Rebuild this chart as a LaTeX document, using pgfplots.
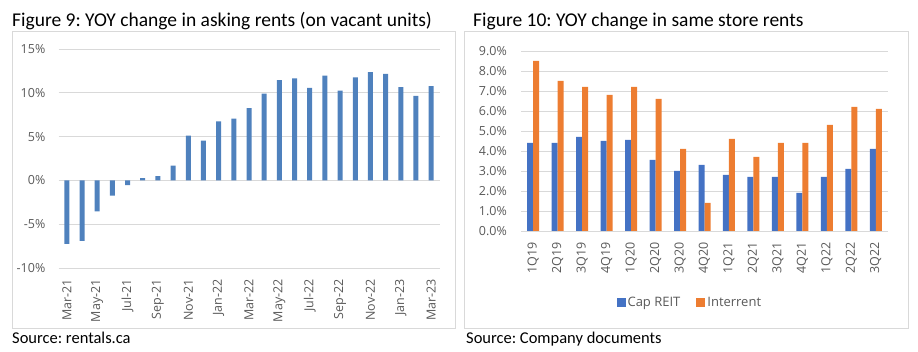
\documentclass[border=0pt]{standalone}
\usepackage{pgfplots}
\pgfplotsset{compat=1.18}
\usepackage{fontspec}
\setmainfont{Carlito}
\newfontfamily\tickfont{Open Sans}
\definecolor{gridc}{HTML}{D9D9D9}
\definecolor{tickc}{HTML}{595959}
\definecolor{barA}{HTML}{4F81BD}
\definecolor{capc}{HTML}{4472C4}
\definecolor{intc}{HTML}{ED7D31}
\begin{document}
\frenchspacing
\begin{tikzpicture}[x=1pt,y=1pt]
\useasboundingbox (0,0) rectangle (918,352);
% boxes
\draw[gridc, line width=0.8pt] (12,24) rectangle (455,321);
\draw[gridc, line width=0.8pt] (464,24) rectangle (908,321);
% titles
\node[anchor=base west, inner sep=0pt, font=\fontsize{19.5}{21}\selectfont] at (12,325) {Figure 9: YOY change in asking rents (on vacant units)};
\node[anchor=base west, inner sep=0pt, font=\fontsize{19.5}{21}\selectfont] at (473,325) {Figure 10: YOY change in same store rents};
\node[anchor=base west, inner sep=0pt, font=\fontsize{16.5}{18}\selectfont] at (12,8) {Source: rentals.ca};
\node[anchor=base west, inner sep=0pt, font=\fontsize{16.5}{18}\selectfont] at (466,8) {Source: Company documents};

\begin{axis}[
  at={(58.5pt,84pt)}, anchor=south west, scale only axis,
  width=381pt, height=219pt,
  xmin=-0.55, xmax=24.55, ymin=-10, ymax=15,
  ytick={-10,-5,0,5,10,15},
  yticklabel={\pgfmathprintnumber{\tick}\%},
  xtick={0,2,...,24},
  xticklabels={Mar-21,May-21,Jul-21,Sep-21,Nov-21,Jan-22,Mar-22,May-22,Jul-22,Sep-22,Nov-22,Jan-23,Mar-23},
  x tick label style={rotate=90, anchor=east, inner sep=0pt, xshift=0pt},
  xticklabel shift=11pt,
  y tick label style={inner sep=0pt},
  yticklabel shift=13pt,
  tick label style={font=\tickfont\fontsize{12.5}{14}\selectfont, text=tickc},
  /pgf/number format/assume math mode=true,
  axis line style={draw=none},
  major tick length=0pt,
  ymajorgrids, grid style={gridc, line width=0.8pt},
  ybar, bar width=5pt,
]
\addplot[fill=barA, draw=none] coordinates {
(0,-7.25) (1,-6.9) (2,-3.55) (3,-1.75) (4,-0.55) (5,0.25) (6,0.5) (7,1.7)
(8,5.1) (9,4.55) (10,6.75) (11,7.05) (12,8.25) (13,9.9) (14,11.45) (15,11.65)
(16,10.55) (17,11.95) (18,10.25) (19,11.75) (20,12.35) (21,12.15) (22,10.65)
(23,9.65) (24,10.75)};
\end{axis}

\begin{axis}[
  at={(521pt,121pt)}, anchor=south west, scale only axis,
  width=367pt, height=180pt,
  xmin=-0.5, xmax=14.5, ymin=0, ymax=9,
  ytick={0,1,...,9},
  yticklabel={\pgfmathprintnumber[fixed,fixed zerofill,precision=1]{\tick}\%},
  xtick={0,1,...,14},
  xticklabels={1Q19,2Q19,3Q19,4Q19,1Q20,2Q20,3Q20,4Q20,1Q21,2Q21,3Q21,4Q21,1Q22,2Q22,3Q22},
  x tick label style={rotate=90, anchor=east, inner sep=0pt},
  xticklabel shift=11pt,
  y tick label style={inner sep=0pt},
  yticklabel shift=14pt,
  tick label style={font=\tickfont\fontsize{12.5}{14}\selectfont, text=tickc},
  /pgf/number format/assume math mode=true,
  axis line style={draw=none},
  major tick length=0pt,
  ymajorgrids, grid style={gridc, line width=0.8pt},
  ybar=0pt, bar width=6pt,
  legend style={at={(0.46,-0.4)}, anchor=center, draw=none, fill=none,
    legend columns=2, font=\tickfont\fontsize{13}{15}\selectfont, text=tickc,
    /tikz/every even column/.append style={column sep=14pt}},
  legend image code/.code={\fill[#1] (0pt,-4.5pt) rectangle (9pt,4.5pt);},
]
\addplot[fill=capc, draw=none] coordinates {
(0,4.4) (1,4.4) (2,4.7) (3,4.5) (4,4.55) (5,3.55) (6,3.0) (7,3.3) (8,2.8)
(9,2.7) (10,2.7) (11,1.9) (12,2.7) (13,3.1) (14,4.1)};
\addplot[fill=intc, draw=none] coordinates {
(0,8.5) (1,7.5) (2,7.2) (3,6.8) (4,7.2) (5,6.6) (6,4.1) (7,1.4) (8,4.6)
(9,3.7) (10,4.4) (11,4.4) (12,5.3) (13,6.2) (14,6.1)};
\legend{Cap REIT,Interrent}
\end{axis}
\end{tikzpicture}
\end{document}
